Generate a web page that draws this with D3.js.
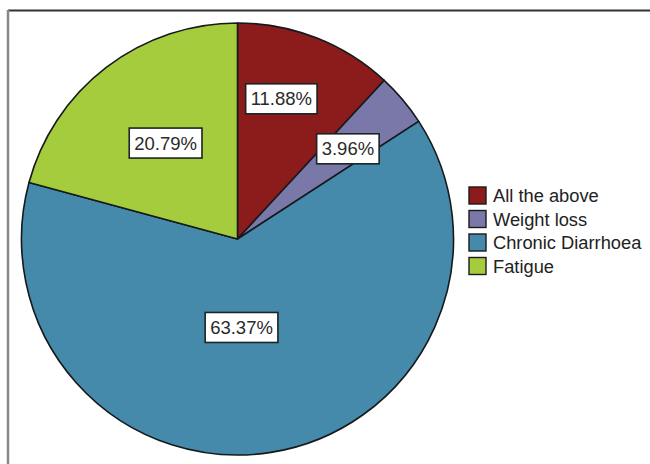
<!DOCTYPE html>
<html>
<head>
<meta charset="utf-8">
<script src="https://cdn.jsdelivr.net/npm/d3@7"></script>
<style>
  html, body { margin: 0; padding: 0; background: #fff; }
  svg { display: block; }
</style>
</head>
<body>
<svg id="chart" width="650" height="464"></svg>
<script>
// Symptom categories, clockwise from 12 o'clock
const categories = ["All the above", "Weight loss", "Chronic Diarrhoea", "Fatigue"];
const percentages = [11.88, 3.96, 63.37, 20.79];
const labels = ["11.88%", "3.96%", "63.37%", "20.79%"];
const colors = ["#8c1b1c", "#7a78a9", "#468aab", "#a5cc3d"];

const svg = d3.select("#chart");
const W = 650, H = 464;

// frame: top and left rules
svg.append("line").attr("x1", 8).attr("y1", 10.5).attr("x2", W).attr("y2", 10.5)
  .attr("stroke", "#333").attr("stroke-width", 2);
svg.append("line").attr("x1", 8).attr("y1", 10).attr("x2", 8).attr("y2", H)
  .attr("stroke", "#888").attr("stroke-width", 2.5);

const cx = 237.5, cy = 239, R = 216;
const g = svg.append("g").attr("transform", `translate(${cx},${cy})`);

const pie = d3.pie().sort(null).value(d => d)(percentages);
const arc = d3.arc().innerRadius(0).outerRadius(R);

g.selectAll("path.slice").data(pie).join("path")
  .attr("class", "slice")
  .attr("d", arc)
  .attr("fill", (d, i) => colors[i])
  .attr("stroke", "#151a1c")
  .attr("stroke-width", 1.6)
  .attr("stroke-linejoin", "round");

// value labels in boxed tags; radial distance of each tag as a fraction of R
const labelRadius = [0.68, 0.66, 0.41, 0.555];
const labelShift = [-0.07, 0.015, 0.11, 0.01]; // angular nudge (radians)
const tags = g.selectAll("g.tag").data(pie).join("g").attr("class", "tag")
  .attr("transform", (d, i) => {
    const a = (d.startAngle + d.endAngle) / 2 + labelShift[i];
    const r = R * labelRadius[i];
    return `translate(${r * Math.sin(a)},${-r * Math.cos(a)})`;
  });

tags.each(function(d, i) {
  const t = d3.select(this);
  const txt = t.append("text")
    .attr("text-anchor", "middle")
    .attr("dy", "0.36em")
    .attr("font-family", "Liberation Sans, Arial, sans-serif")
    .attr("font-size", 18.5)
    .attr("fill", "#2a2a2a")
    .text(labels[i]);
  const bb = txt.node().getBBox();
  t.insert("rect", "text")
    .attr("x", bb.x - 5).attr("y", -15)
    .attr("width", bb.width + 10).attr("height", 30)
    .attr("fill", "#fff")
    .attr("stroke", "#1c2426")
    .attr("stroke-width", 1.6);
});

// legend
const legend = svg.append("g").attr("transform", "translate(469,187)");
const rows = legend.selectAll("g").data(categories).join("g")
  .attr("transform", (d, i) => `translate(0,${i * 23.5})`);
rows.append("rect")
  .attr("width", 17).attr("height", 17)
  .attr("fill", (d, i) => colors[i])
  .attr("stroke", "#1a1a1a").attr("stroke-width", 1.4);
rows.append("text")
  .attr("x", 24).attr("y", 8.5).attr("dy", "0.36em")
  .attr("font-family", "Liberation Sans, Arial, sans-serif")
  .attr("font-size", 18.3)
  .attr("fill", "#222")
  .text(d => d);
</script>
</body>
</html>
